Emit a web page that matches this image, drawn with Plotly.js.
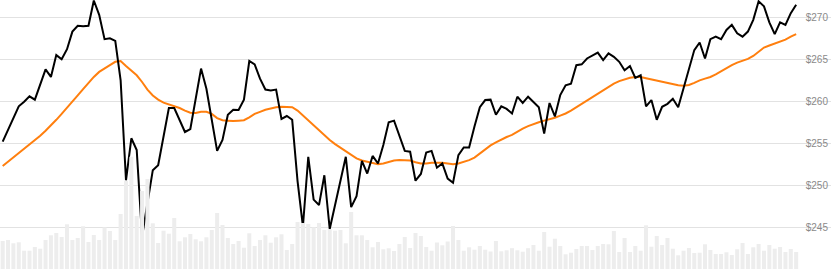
<!DOCTYPE html>
<html>
<head>
<meta charset="utf-8">
<script src="https://cdn.plot.ly/plotly-3.0.1.min.js"></script>
<style>html,body{margin:0;padding:0;background:#fff;}#chart{width:831px;height:269px;}</style>
</head>
<body>
<div id="chart"></div>
<script>
// Closing price (USD)
const price = [
255.2,256.6,257.8,259.4,259.95,260.6,260.2,262.1,263.8,262.9,
265.5,265.0,266.2,268.3,269.0,268.95,269.0,272.0,270.3,267.4,
267.5,267.2,262.5,250.6,255.6,254.2,243.9,247.9,251.8,252.4,
255.8,259.2,259.2,257.8,256.35,256.7,260.5,263.9,261.5,258.0,
254.1,255.4,258.4,259.0,258.96,260.2,264.8,264.4,262.7,261.4,
261.3,261.4,257.9,258.25,257.8,250.5,245.1,253.4,248.3,247.65,
251.2,244.8,247.8,250.8,253.4,247.4,248.7,252.9,251.4,253.5,
252.6,254.8,257.5,257.7,256.0,254.1,254.0,250.55,251.35,253.9,
254.1,252.1,252.6,250.8,250.3,253.6,254.5,254.5,257.0,259.3,
260.15,260.2,258.4,259.4,259.1,258.55,260.55,259.8,260.55,259.95,
259.3,256.15,259.8,258.2,260.75,261.9,262.1,264.3,264.4,265.1,
265.5,265.8,264.9,265.7,265.3,264.7,263.7,264.2,262.8,263.1,
259.4,260.15,257.8,259.35,259.7,260.3,259.3,261.6,263.9,266.1,
267.0,265.1,267.4,267.7,267.4,268.5,269.1,268.1,267.7,268.3,
269.7,271.9,271.3,269.4,268.0,269.4,269.1,270.5,271.5
];
// Moving average (USD)
const movingAvg = [
252.3,252.8,253.3,253.8,254.3,254.8,255.35,255.9,256.5,257.1,
257.8,258.5,259.2,260.0,260.7,261.45,262.2,262.9,263.5,263.95,
264.3,264.7,264.8,264.2,263.7,263.1,262.3,261.4,260.7,260.2,
259.85,259.65,259.45,259.2,258.9,258.65,258.6,258.75,258.75,258.5,
258.0,257.75,257.7,257.65,257.7,257.75,258.1,258.5,258.75,259.0,
259.15,259.3,259.35,259.35,259.3,258.9,258.3,257.8,257.2,256.5,
256.0,255.4,254.9,254.5,254.1,253.6,253.2,252.95,252.8,252.6,
252.5,252.6,252.8,252.95,253.0,253.0,252.95,252.75,252.6,252.6,
252.7,252.7,252.7,252.6,252.5,252.6,252.8,253.0,253.3,253.8,
254.3,254.75,255.1,255.45,255.75,256.0,256.4,256.75,257.05,257.3,
257.5,257.7,257.85,258.05,258.3,258.55,258.9,259.3,259.7,260.1,
260.55,260.95,261.35,261.75,262.1,262.4,262.6,262.8,262.9,262.9,
262.75,262.6,262.45,262.3,262.15,262.05,261.9,261.85,261.95,262.2,
262.5,262.7,262.9,263.2,263.6,263.95,264.3,264.6,264.85,265.05,
265.4,265.9,266.4,266.65,266.9,267.1,267.35,267.7,268.0
];
// Volume (millions)
const volume = [
28,29,25.7,26.7,18.3,18.3,22,20.3,29,33.7,
36,32,44.7,29,31,42.7,27,34,29,41.7,
38,29,55,88.3,112.3,53,78,90,45.7,26,
38.3,35.3,51,27.7,31.7,35,29.7,27.7,31.7,39,
56,44,31,25,28,21.3,35.7,23,29,33.7,
26.3,31.7,34.7,19,25,47,46,45,41.7,46,
39,39.7,38.3,39,25.7,57,33.7,33.7,29,21.7,
27,19.7,20.7,18,25,32,21,36,33,22,
18.3,26.5,23.7,27.5,43,29,18.3,21.7,19.3,23,
19.3,17.5,28,17.7,18.7,20.8,18.7,17.3,20.8,24,
18.3,37,22.3,30.3,23,14.7,16.3,20,23,23,
19,23,25,24.7,38,17,31,17,23,18.3,
43.7,22.3,33,24,31,20.3,13.7,18.3,21,16,
16.3,24.7,19,15,15,16.7,14,19.7,26,15,
21.7,25,18.3,24,20.3,22,17,20,17
];
const priceTicks = [245, 250, 255, 260, 265, 270];
const priceTickLabels = priceTicks.map(v => '$' + v);

const days = price.map((_, i) => i);

const traces = [
  {
    type: 'bar', x: days, y: volume, yaxis: 'y2',
    marker: {color: '#ededed', line: {width: 0}},
    hoverinfo: 'skip'
  },
  {
    type: 'scatter', mode: 'lines', x: days, y: movingAvg,
    line: {color: '#ff7f0e', width: 2}, hoverinfo: 'skip'
  },
  {
    type: 'scatter', mode: 'lines', x: days, y: price,
    line: {color: '#000000', width: 2}, hoverinfo: 'skip'
  }
];

const layout = {
  width: 831, height: 269,
  margin: {l: 0, r: 0, t: 0, b: 0, pad: 0},
  paper_bgcolor: '#ffffff', plot_bgcolor: '#ffffff',
  showlegend: false,
  bargap: 0.25,
  xaxis: {range: [-0.5, 154.5], visible: false, fixedrange: true},
  yaxis: {
    side: 'right', range: [240.04, 272.06],
    tickvals: priceTicks, ticktext: priceTickLabels,
    ticklabelposition: 'inside',
    tickfont: {family: 'Liberation Sans, Arial, sans-serif', size: 10, color: '#8a8a8a'},
    gridcolor: '#e2e2e2', gridwidth: 1,
    zeroline: false, showline: false, ticks: ''
  },
  yaxis2: {overlaying: 'y', range: [0, 269], visible: false, fixedrange: true}
};

Plotly.newPlot('chart', traces, layout, {staticPlot: true, displayModeBar: false});
</script>
</body>
</html>
